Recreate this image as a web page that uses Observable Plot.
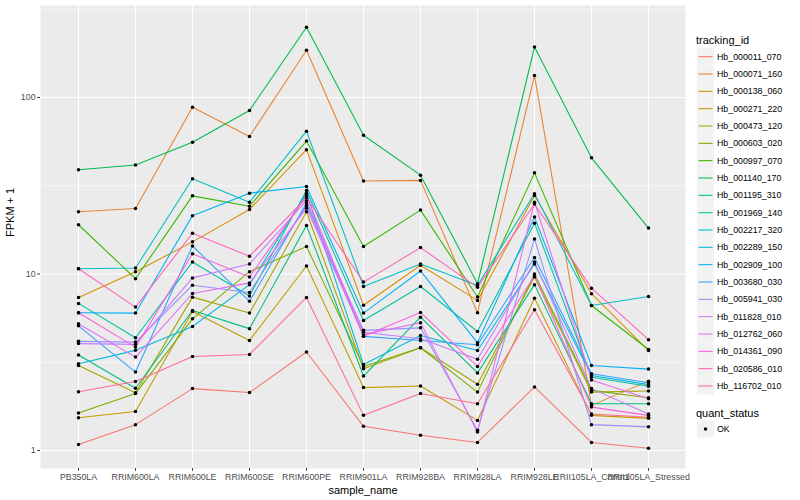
<!DOCTYPE html>
<html>
<head>
<meta charset="utf-8">
<script src="https://cdn.jsdelivr.net/npm/d3@7"></script>
<script src="https://cdn.jsdelivr.net/npm/@observablehq/plot@0.6"></script>
<style>
  html, body { margin: 0; padding: 0; background: white; }
  #wrap { position: relative; width: 800px; height: 500px; font-family: "Liberation Sans", Arial, sans-serif; }
  #legend { position: absolute; left: 0; top: 0; pointer-events: none; }
</style>
</head>
<body>
<div id="wrap"></div>
<script>
const samples = ["PB350LA","RRIM600LA","RRIM600LE","RRIM600SE","RRIM600PE","RRIM901LA","RRIM928BA","RRIM928LA","RRIM928LE","RRII105LA_Control","RRII105LA_Stressed"];
const trackingIds = ["Hb_000011_070","Hb_000071_160","Hb_000138_060","Hb_000271_220","Hb_000473_120","Hb_000603_020","Hb_000997_070","Hb_001140_170","Hb_001195_310","Hb_001969_140","Hb_002217_320","Hb_002289_150","Hb_002909_100","Hb_003680_030","Hb_005941_030","Hb_011828_010","Hb_012762_060","Hb_014361_090","Hb_020586_010","Hb_116702_010"];
const quantStatus = ["OK"];
const yTicks = [1, 10, 100];

// FPKM + 1 per tracking_id, one value per sample (in sample order)
const hb000011_070 = [1.08, 1.40, 2.24, 2.13, 3.61, 1.37, 1.22, 1.11, 2.29, 1.11, 1.03];
const hb000071_160 = [22.5, 23.5, 88, 60.1, 185, 33.6, 33.9, 6.03, 133, 1.80, 2.47];
const hb000138_060 = [7.36, 10.3, 15.2, 23.2, 50.6, 6.65, 11.2, 7.08, 27.8, 7.73, 3.68];
const hb000271_220 = [1.53, 1.66, 6.13, 4.2, 11.1, 2.27, 2.32, 1.48, 7.29, 1.58, 1.52];
const hb000473_120 = [3.03, 2.12, 7.39, 6.0, 22.5, 2.90, 3.82, 2.37, 9.6, 2.14, 2.17];
const hb000603_020 = [1.63, 2.10, 5.57, 10.3, 14.3, 2.99, 3.82, 2.14, 10.0, 2.19, 1.99];
const hb000997_070 = [19.0, 9.4, 27.7, 24.2, 56.6, 14.3, 23.0, 7.4, 37.4, 6.63, 3.73];
const hb001140_170 = [38.9, 41.4, 55.8, 84.4, 250, 61.1, 36.3, 8.8, 193, 45.5, 18.2];
const hb001195_310 = [3.47, 2.25, 6.21, 4.9, 18.8, 2.64, 5.69, 2.75, 8.7, 1.84, 1.84];
const hb001969_140 = [6.81, 4.35, 11.7, 7.5, 29.7, 5.45, 8.49, 4.72, 19.4, 2.60, 2.31];
const hb002217_320 = [10.7, 10.8, 34.6, 25.5, 64.4, 8.49, 11.4, 8.6, 28.5, 6.63, 7.46];
const hb002289_150 = [3.10, 3.69, 5.04, 8.7, 28.7, 3.07, 4.48, 3.68, 11.4, 2.66, 2.36];
const hb002909_100 = [6.03, 6.0, 21.4, 28.7, 31.3, 6.0, 10.4, 4.07, 21.0, 3.03, 2.89];
const hb003680_030 = [5.08, 2.78, 14.4, 7.0, 25.2, 4.43, 4.2, 3.97, 12.4, 2.72, 2.42];
const hb005941_030 = [4.15, 4.11, 8.64, 7.85, 24.4, 4.79, 4.95, 1.30, 15.8, 1.40, 1.36];
const hb011828_010 = [4.03, 3.99, 9.5, 11.4, 26.0, 4.67, 4.29, 3.29, 11.7, 2.24, 1.61];
const hb012762_060 = [5.22, 3.38, 7.75, 8.9, 23.6, 4.53, 5.29, 1.27, 25.5, 2.51, 1.96];
const hb014361_090 = [6.03, 3.85, 13.0, 9.6, 27.8, 4.43, 6.05, 2.99, 9.8, 1.76, 1.58];
const hb020586_010 = [10.7, 6.49, 17.0, 12.6, 27.0, 8.99, 14.1, 8.4, 24.9, 8.31, 4.24];
const hb116702_010 = [2.15, 2.46, 3.41, 3.5, 7.36, 1.58, 2.10, 1.84, 6.27, 1.61, 1.54];

const seriesValues = [hb000011_070, hb000071_160, hb000138_060, hb000271_220, hb000473_120, hb000603_020, hb000997_070, hb001140_170, hb001195_310, hb001969_140, hb002217_320, hb002289_150, hb002909_100, hb003680_030, hb005941_030, hb011828_010, hb012762_060, hb014361_090, hb020586_010, hb116702_010];

const palette = ["#F8766D","#EA8331","#D89000","#C09B00","#A3A500","#7CAE00","#39B600","#00BB4E","#00BF7D","#00C1A3","#00BFC4","#00BAE0","#00B0F6","#35A2FF","#9590FF","#C77CFF","#E76BF3","#FA62DB","#FF62BC","#FF6C91"];

const rows = [];
trackingIds.forEach((id, i) => {
  seriesValues[i].forEach((v, j) => rows.push({tracking_id: id, sample_name: samples[j], value: v, quant_status: "OK"}));
});

const font = '"Liberation Sans", Arial, Helvetica, sans-serif';

const chart = Plot.plot({
  width: 800,
  height: 500,
  marginLeft: 40,
  marginRight: 115,
  marginTop: 5,
  marginBottom: 32,
  style: {fontFamily: font, fontSize: "8.8px", background: "white", overflow: "visible"},
  x: {type: "point", domain: samples, padding: 0.6, label: null},
  y: {type: "log", domain: [0.79, 332], label: null},
  color: {domain: trackingIds, range: palette},
  marks: [
    Plot.frame({fill: "#EBEBEB", stroke: null}),
    Plot.ruleY([Math.sqrt(10), Math.sqrt(1000), Math.sqrt(100000)], {stroke: "white", strokeWidth: 0.55}),
    Plot.ruleY(yTicks, {stroke: "white", strokeWidth: 1.07}),
    Plot.ruleX(samples, {stroke: "white", strokeWidth: 1.07}),
    Plot.line(rows, {x: "sample_name", y: "value", z: "tracking_id", stroke: "tracking_id", strokeWidth: 1.07, curve: "linear"}),
    Plot.dot(rows, {x: "sample_name", y: "value", fill: "black", stroke: null, r: 1.75}),
    Plot.axisY({ticks: yTicks, tickFormat: d => String(d), tickSize: 2.75, tickPadding: 2.2, stroke: "#333333", fill: "#4D4D4D", fontSize: "8.8px", label: null}),
    Plot.axisX({tickSize: 2.75, tickPadding: 2.2, stroke: "#333333", fill: "#4D4D4D", fontSize: "8.8px", label: null}),
    Plot.text(["sample_name"], {frameAnchor: "bottom", dy: 25, text: d => d, fontSize: "11px", fill: "black", lineAnchor: "bottom"}),
    Plot.text(["FPKM + 1"], {frameAnchor: "left", dx: -27, rotate: -90, text: d => d, fontSize: "11px", fill: "black", lineAnchor: "bottom"})
  ]
});

const wrap = document.getElementById("wrap");
wrap.appendChild(chart);

// Legend (ggplot-style, right side)
const leg = d3.select(wrap).append("svg")
  .attr("id", "legend")
  .attr("width", 800).attr("height", 500)
  .style("font-family", font);

const keyX = 697, keyW = 17, step = 17.33, firstY = 56.7, labelX = 717;
leg.append("text").attr("x", 696).attr("y", 44).attr("font-size", "11px").attr("fill", "black").text("tracking_id");
trackingIds.forEach((id, i) => {
  const cy = firstY + i * step;
  leg.append("rect").attr("x", keyX).attr("y", cy - keyW / 2).attr("width", keyW).attr("height", keyW).attr("fill", "#F2F2F2");
  leg.append("line").attr("x1", keyX + 1.5).attr("x2", keyX + keyW - 1.5).attr("y1", cy).attr("y2", cy)
    .attr("stroke", palette[i]).attr("stroke-width", 1.07);
  leg.append("text").attr("x", labelX).attr("y", cy + 3).attr("font-size", "8.8px").attr("fill", "black").text(id);
});

const qTitleY = 417, qY = 429;
leg.append("text").attr("x", 696).attr("y", qTitleY).attr("font-size", "11px").attr("fill", "black").text("quant_status");
quantStatus.forEach((q, i) => {
  const cy = qY + i * step;
  leg.append("rect").attr("x", keyX).attr("y", cy - keyW / 2).attr("width", keyW).attr("height", keyW).attr("fill", "#F2F2F2");
  leg.append("circle").attr("cx", keyX + keyW / 2).attr("cy", cy).attr("r", 1.75).attr("fill", "black");
  leg.append("text").attr("x", labelX).attr("y", cy + 3).attr("font-size", "8.8px").attr("fill", "black").text(q);
});
</script>
</body>
</html>
